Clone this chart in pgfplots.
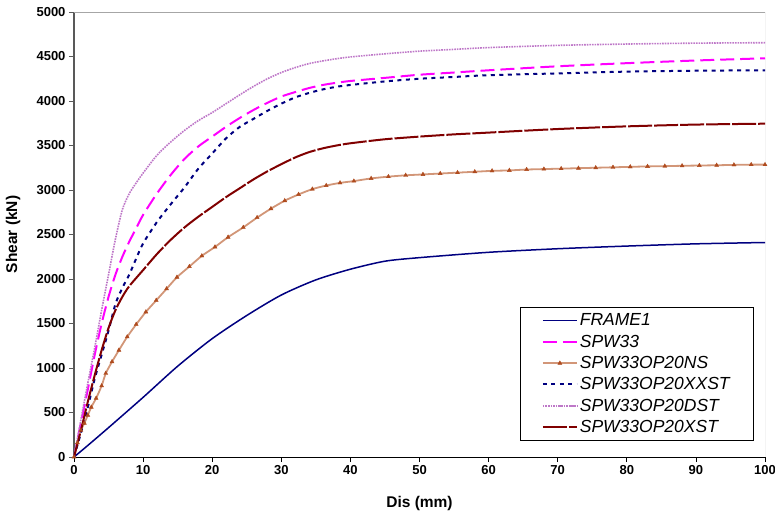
\documentclass[border=0pt]{standalone}
\usepackage{fontspec}
\setmainfont{Liberation Sans}
\usepackage{pgfplots}
\pgfplotsset{compat=1.18}

\definecolor{frame}{RGB}{0,0,128}
\definecolor{spw}{RGB}{255,0,255}
\definecolor{nsline}{RGB}{210,150,120}
\definecolor{nsmark}{RGB}{175,75,30}
\definecolor{xxst}{RGB}{0,0,128}
\definecolor{dst}{RGB}{190,120,200}
\definecolor{xst}{RGB}{128,0,0}

\begin{document}
\begin{tikzpicture}
\begin{axis}[
    at={(0,0)}, anchor=south west,
    width=691pt, height=445pt, scale only axis,
    xmin=0, xmax=100, ymin=0, ymax=5000,
    xtick distance=10, ytick distance=500,
    axis x line*=bottom, axis y line*=left,
    x axis line style={black,-,line width=0.9pt},
    y axis line style={black!65,-,line width=1.6pt},
    tick align=outside, major tick length=5pt,
    xtick style={black,line width=0.7pt},
    ytick style={black!65,line width=0.9pt},
    /pgf/number format/assume math mode=true,
    /pgf/number format/1000 sep={},
    ticklabel style={font=\fontsize{13}{15}\selectfont\bfseries},
    xlabel={Dis (mm)}, ylabel={Shear (kN)},
    label style={font=\fontsize{15.5}{18}\selectfont\bfseries},
    xlabel style={at={(axis description cs:0.5,-0.1034)}, anchor=center},
    ylabel style={at={(axis description cs:-0.088,0.5)}, anchor=center},
    legend style={at={(0.984,0.337)}, anchor=north east, draw=black, line width=0.6pt,
        font=\fontsize{17.5}{20}\selectfont\itshape, inner xsep=22pt, inner ysep=4.5pt,
        row sep=3.6pt},
    legend cell align=left,
    legend image code/.code={\draw[mark repeat=2,mark phase=2,#1] plot coordinates {(0pt,0pt) (17pt,0pt) (34pt,0pt)};},
    smooth, tension=0.45,
]
\draw[black!35, line width=0.8pt] (rel axis cs:0,1) -- (rel axis cs:1,1) -- (rel axis cs:1,0);

\addplot[frame, line width=1.5pt, no marks] coordinates {
(0,0)(2,130)(5,330)(10,670)(15,1020)(20,1330)(25,1590)(30,1820)(35,1990)(40,2110)(45,2200)(50,2240)(60,2300)(70,2340)(80,2370)(90,2395)(100,2410)
};
\addlegendentry{FRAME1}

\addplot[spw, line width=2pt, dash pattern=on 14pt off 6pt, no marks] coordinates {
(0,0)(1,380)(2,760)(3,1150)(4,1500)(5,1800)(6,2050)(7,2250)(8,2420)(9,2570)(10,2720)(12,2960)(14,3170)(16,3350)(18,3490)(20,3600)(22,3710)(24,3810)(26,3900)(28,3980)(30,4050)(32,4100)(34,4145)(36,4180)(38,4205)(40,4225)(45,4260)(50,4295)(55,4320)(60,4345)(70,4390)(80,4425)(90,4455)(100,4480)
};
\addlegendentry{SPW33}

\addplot[nsline, line width=1.8pt, mark=triangle*, mark size=2.3pt,
    mark options={solid, fill=nsmark, draw=nsmark, line width=0.4pt}] coordinates {
(0,0)(0.5,160)(1.0,300)(1.5,380)(2,470)(2.5,560)(3.2,660)(4,800)(4.6,940)(5.5,1070)(6.5,1200)(7.7,1350)(9.0,1490)(10.4,1630)(11.9,1760)(13.4,1890)(14.9,2020)(16.7,2140)(18.5,2260)(20.4,2360)(22.3,2470)(24.5,2580)(26.5,2690)(28.5,2790)(30.5,2880)(32.5,2950)(34.5,3010)(36.5,3050)(38.5,3080)(40.5,3100)(43,3130)(45.5,3150)(48,3165)(50.5,3175)(53,3185)(55.5,3195)(58,3205)(60.5,3215)(63,3220)(65.5,3230)(68,3235)(70.5,3240)(73,3245)(75.5,3250)(78,3255)(80.5,3260)(83,3265)(85.5,3268)(88,3272)(90.5,3275)(93,3278)(95.5,3282)(98,3285)(100,3285)
};
\addlegendentry{SPW33OP20NS}

\addplot[xxst, line width=2pt, dash pattern=on 4pt off 4.5pt, no marks] coordinates {
(0,0)(1,270)(2,560)(3,880)(4,1150)(5,1420)(6,1720)(7,1900)(8,2050)(9,2230)(10,2400)(12,2640)(14,2840)(16,3030)(18,3240)(20,3410)(22,3580)(24,3710)(26,3800)(28,3890)(30,3970)(32,4040)(34,4090)(36,4130)(38,4160)(40,4180)(45,4220)(50,4250)(55,4270)(60,4290)(70,4310)(80,4330)(90,4340)(100,4345)
};
\addlegendentry{SPW33OP20XXST}

\addplot[dst, line width=1.6pt, densely dotted, no marks] coordinates {
(0,0)(1,420)(2,830)(3,1230)(4,1650)(5,2050)(6,2450)(7,2780)(8,2960)(9,3080)(10,3190)(12,3390)(14,3540)(16,3670)(18,3780)(20,3870)(22,3970)(24,4070)(26,4165)(28,4250)(30,4320)(32,4375)(34,4420)(36,4450)(38,4475)(40,4495)(45,4530)(50,4560)(55,4580)(60,4600)(70,4625)(80,4640)(90,4650)(100,4655)
};
\addlegendentry{SPW33OP20DST}

\addplot[xst, line width=2pt, dash pattern=on 24pt off 2pt, no marks] coordinates {
(0,0)(1,300)(2,620)(3,920)(4,1200)(5,1450)(6,1650)(7,1800)(8,1920)(10,2100)(12,2280)(14,2440)(16,2580)(18,2700)(20,2810)(22,2920)(24,3020)(26,3120)(28,3210)(30,3290)(32,3365)(34,3425)(36,3468)(38,3500)(40,3525)(45,3570)(50,3600)(55,3625)(60,3645)(70,3685)(80,3715)(90,3735)(100,3745)
};
\addlegendentry{SPW33OP20XST}
\end{axis}
\pgfresetboundingbox
\path (-74pt,-59pt) rectangle (701pt,457pt);
\end{tikzpicture}
\end{document}
